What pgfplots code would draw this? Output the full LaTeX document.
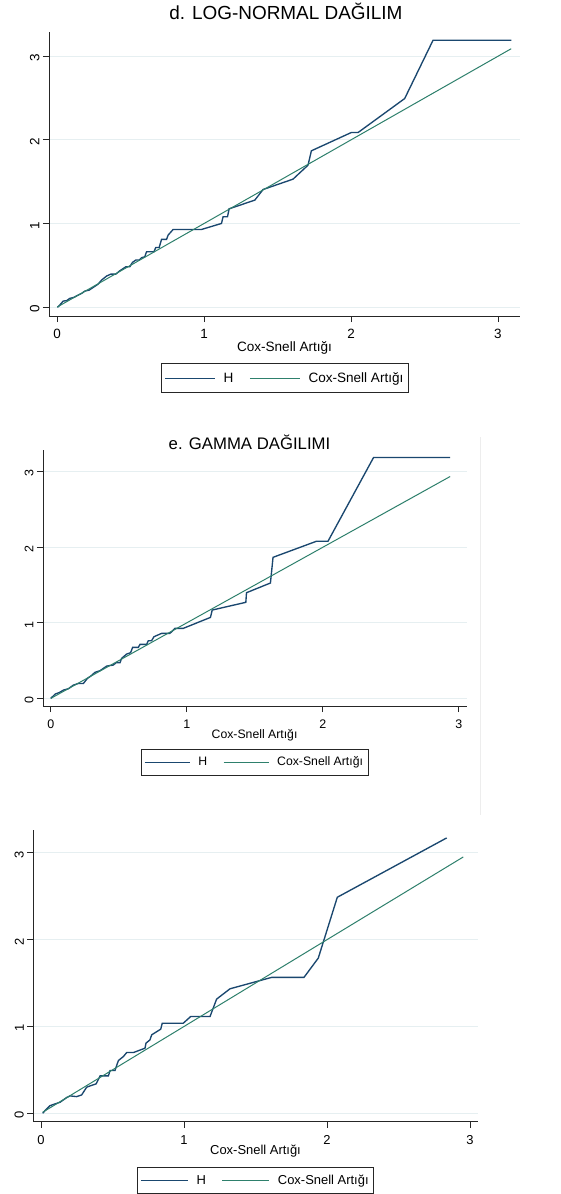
\documentclass[border=0pt]{standalone}
\usepackage{fontspec}
\setmainfont{Liberation Sans}
\usepackage{pgfplots}
\pgfplotsset{compat=1.18}
\definecolor{hnavy}{RGB}{26,71,111}
\definecolor{csgreen}{RGB}{46,128,108}
\definecolor{gridc}{RGB}{230,239,241}

\pgfplotsset{
 stpanel/.style={
  scale only axis,
  axis lines=left,
  axis line style={-, line width=0.9bp, black!85},
  xtick={0,1,2,3}, ytick={0,1,2,3},
  tick align=outside, major tick length=6bp,
  tick style={line width=0.8bp, black!85},
  ymajorgrids, grid style={gridc, line width=0.9bp},
  /pgf/number format/assume math mode=true,
  yticklabel style={rotate=90, anchor=south, xshift=-2bp},
  xticklabel style={yshift=-4bp},
  legend columns=2,
  legend cell align=left,
  legend image code/.code={\draw[##1, line width=1.1bp] (0bp,0bp) -- (48bp,0bp);},
  legend style={draw=black!85, line width=0.8bp, anchor=north,
    inner xsep=3bp, inner ysep=6bp,
    /tikz/every odd column/.append style={column sep=6bp},
    /tikz/every even column/.append style={column sep=14bp}},
  every axis plot/.append style={line width=1.1bp},
 },
 hline/.style={color=hnavy, line width=1.35bp},
 gline/.style={color=csgreen, line width=1.0bp},
}

\begin{document}
\begin{tikzpicture}
\path[use as bounding box] (0bp,0bp) rectangle (561bp,-1194bp);
\fill[white] (0bp,0bp) rectangle (561bp,-1194bp);

% ---------------- Panel d ----------------
\begin{axis}[stpanel,
  at={(49bp,-316bp)}, anchor=south west,
  width=471bp, height=284bp,
  xmin=-0.056, xmax=3.15, ymin=-0.107, ymax=3.29,
  tick label style={font=\fontsize{13.5}{14}\selectfont},
  title={d. LOG-NORMAL DAĞILIM},
  title style={at={(axis description cs:0.503,1.053)}, anchor=center, font=\fontsize{19}{20}\selectfont},
  xlabel={Cox-Snell Artığı},
  xlabel style={at={(axis description cs:0.5,-0.1127)}, anchor=center, font=\fontsize{13.6}{14}\selectfont},
  legend image code/.code={\draw[#1, line width=1.1bp] (0bp,0bp) -- (50bp,0bp);},
  legend style={at={(axis description cs:0.501,-0.1655)}, font=\fontsize{13.6}{14}\selectfont, inner ysep=7bp},
]
\addplot[hline] coordinates {
(0.000,0.000) (0.007,0.004) (0.041,0.072) (0.063,0.076) (0.086,0.104) (0.113,0.116)
(0.143,0.143) (0.166,0.163) (0.188,0.191) (0.218,0.203) (0.245,0.235) (0.279,0.275)
(0.302,0.323) (0.336,0.371) (0.365,0.394) (0.399,0.394) (0.426,0.434) (0.467,0.482)
(0.494,0.482) (0.512,0.534) (0.535,0.562) (0.558,0.562) (0.574,0.590) (0.596,0.602)
(0.608,0.661) (0.658,0.661) (0.671,0.713) (0.694,0.713) (0.710,0.809) (0.744,0.809)
(0.755,0.861) (0.789,0.928) (0.982,0.928) (1.118,1.000) (1.129,1.080) (1.159,1.080)
(1.170,1.175) (1.345,1.279) (1.401,1.406) (1.605,1.530) (1.707,1.697) (1.730,1.869)
(2.002,2.088) (2.048,2.088) (2.365,2.494) (2.558,3.191) (3.091,3.191)
};
\addlegendentry{H}
\addplot[gline] coordinates {(0.000,0.000) (3.090,3.090)};
\addlegendentry{Cox-Snell Artığı}
\end{axis}

% ---------------- Panel e ----------------
\begin{axis}[stpanel,
  at={(43bp,-706bp)}, anchor=south west,
  width=424bp, height=256bp,
  xmin=-0.057, xmax=3.06, ymin=-0.10, ymax=3.28,
  tick label style={font=\fontsize{12.5}{13}\selectfont},
  title={e. GAMMA DAĞILIMI},
  title style={at={(axis description cs:0.487,1.008)}, anchor=center, font=\fontsize{16.8}{18}\selectfont},
  xlabel={Cox-Snell Artığı},
  xlabel style={at={(axis description cs:0.499,-0.113)}, anchor=center, font=\fontsize{12.3}{13}\selectfont},
  legend image code/.code={\draw[#1, line width=1.1bp] (0bp,0bp) -- (45bp,0bp);},
  legend style={at={(axis description cs:0.499,-0.168)}, font=\fontsize{12.3}{13}\selectfont, inner ysep=5.5bp},
]
\addplot[hline] coordinates {
(0.000,0.000) (0.032,0.057) (0.064,0.079) (0.093,0.110) (0.130,0.128) (0.166,0.176)
(0.203,0.198) (0.240,0.198) (0.269,0.264) (0.294,0.295) (0.325,0.344) (0.362,0.366)
(0.411,0.427) (0.460,0.441) (0.480,0.471) (0.509,0.471) (0.521,0.529) (0.558,0.586)
(0.587,0.604) (0.602,0.674) (0.644,0.674) (0.656,0.714) (0.705,0.714) (0.717,0.762)
(0.741,0.762) (0.759,0.815) (0.815,0.859) (0.876,0.859) (0.913,0.925) (0.974,0.925)
(1.174,1.070) (1.187,1.167) (1.434,1.269) (1.439,1.396) (1.615,1.524) (1.634,1.863)
(1.953,2.075) (2.038,2.075) (2.373,3.181) (2.936,3.181)
};
\addlegendentry{H}
\addplot[gline] coordinates {(0.000,0.000) (2.936,2.930)};
\addlegendentry{Cox-Snell Artığı}
\end{axis}

% ---------------- Panel f (untitled) ----------------
\begin{axis}[stpanel,
  at={(33.3bp,-1121.7bp)}, anchor=south west,
  width=444.7bp, height=291.7bp,
  xmin=-0.054, xmax=3.056, ymin=-0.097, ymax=3.26,
  tick label style={font=\fontsize{13}{14}\selectfont},
  xlabel={Cox-Snell Artığı},
  xlabel style={at={(axis description cs:0.4997,-0.100)}, anchor=center, font=\fontsize{13}{14}\selectfont},
  legend image code/.code={\draw[#1, line width=1.1bp] (0bp,0bp) -- (47bp,0bp);},
  legend style={at={(axis description cs:0.4997,-0.155)}, font=\fontsize{13}{14}\selectfont, inner ysep=5.5bp},
]
\addplot[hline] coordinates {
(0.012,0.000) (0.028,0.031) (0.063,0.088) (0.098,0.108) (0.133,0.127) (0.179,0.181)
(0.203,0.200) (0.249,0.192) (0.284,0.211) (0.319,0.300) (0.343,0.315) (0.385,0.338)
(0.413,0.430) (0.471,0.430) (0.483,0.492) (0.517,0.492) (0.541,0.607) (0.576,0.653)
(0.599,0.699) (0.646,0.699) (0.727,0.749) (0.734,0.807) (0.762,0.845) (0.774,0.903)
(0.837,0.968) (0.848,1.037) (0.995,1.037) (1.047,1.114) (1.182,1.114) (1.228,1.314)
(1.322,1.433) (1.613,1.564) (1.839,1.564) (1.939,1.786) (2.072,2.486) (2.837,3.169)
};
\addlegendentry{H}
\addplot[gline] coordinates {(0.012,0.012) (2.953,2.950)};
\addlegendentry{Cox-Snell Artığı}
\end{axis}

\draw[black!7, line width=0.8bp] (480bp,-437bp) -- (480bp,-815bp);
\end{tikzpicture}
\end{document}
